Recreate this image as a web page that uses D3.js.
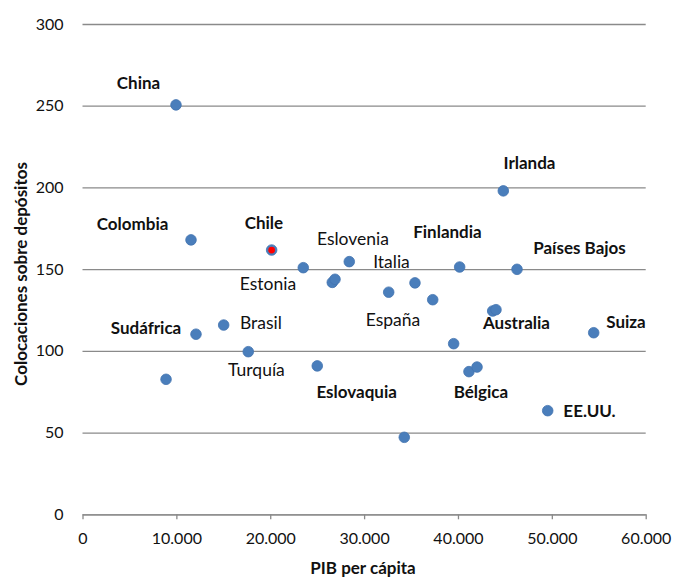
<!DOCTYPE html>
<html>
<head>
<meta charset="utf-8">
<script src="https://cdn.jsdelivr.net/npm/d3@7"></script>
<style>
  html, body { margin: 0; padding: 0; background: #fff; }
  svg { display: block; font-family: Lato, "Noto Sans", sans-serif; }
</style>
</head>
<body>
<svg id="chart" width="675" height="579"></svg>
<script>
// PIB per cápita vs. colocaciones sobre depósitos, por país
const countries = [
  "China", "Colombia", "Chile", "Estonia", "", "", "Eslovenia", "España", "Italia", "",
  "Finlandia", "Irlanda", "Países Bajos", "", "Australia", "Suiza", "", "Bélgica", "",
  "EE.UU.", "", "Eslovaquia", "Turquía", "Brasil", "Sudáfrica", ""
];
const gdpPerCapita = [
  9960, 11560, 20150, 23520, 26610, 26900, 28420, 32620, 35420, 37310,
  40180, 44830, 46290, 43700, 44050, 54460, 39540, 41170, 42030,
  49560, 34280, 25010, 17660, 15040, 12090, 8900
];
const loansToDeposits = [
  250.5, 167.9, 161.7, 150.9, 141.9, 143.8, 154.6, 135.9, 141.6, 131.3,
  151.3, 197.9, 149.9, 124.4, 125.2, 111.1, 104.4, 87.3, 90.1,
  63.4, 47.1, 90.8, 99.5, 115.8, 110.2, 82.6
];
const boldLabels = [
  "China", "Colombia", "Chile", "Finlandia", "Irlanda", "Países Bajos",
  "Australia", "Suiza", "Sudáfrica", "Eslovaquia", "Bélgica", "EE.UU."
];
const highlighted = "Chile";
const xTicks = [0, 10000, 20000, 30000, 40000, 50000, 60000];
const yTicks = [0, 50, 100, 150, 200, 250, 300];
const xTitle = "PIB per cápita";
const yTitle = "Colocaciones sobre depósitos";

// label placement: offset of the label centre from its marker, in px
const labelOffset = {
  "China": [-37.5, -22.3], "Colombia": [-58.5, -16], "Chile": [-7.7, -27],
  "Eslovenia": [3.7, -22.7], "Estonia": [-35.3, 16.3], "Italia": [-23.5, -21],
  "España": [4.3, 27.7], "Finlandia": [-12.2, -35], "Irlanda": [26.2, -28],
  "Países Bajos": [62.5, -21.3], "Australia": [20.5, 13.3], "Suiza": [32.3, -10.8],
  "Sudáfrica": [-50, -6.6], "Brasil": [37.3, -2.3], "Turquía": [8.2, 18.3],
  "Eslovaquia": [39.4, 26], "Bélgica": [12, 20], "EE.UU.": [41.8, 0.3]
};

const points = countries.map((name, i) => ({
  name, x: gdpPerCapita[i], y: loansToDeposits[i]
}));

const svg = d3.select("#chart");
const plot = { left: 82.5, right: 645.7, top: 24, bottom: 514.3 };

const x = d3.scaleLinear().domain([0, 60000]).range([plot.left, plot.right]);
const y = d3.scaleLinear().domain([0, 300]).range([plot.bottom, plot.top]);

const gridColor = "#8a8a8a";
const fmt = d3.formatLocale({ decimal: ",", thousands: ".", grouping: [3], currency: ["", ""] }).format(",d");

// horizontal gridlines + y tick labels
const yAxis = d3.axisLeft(y).tickValues(yTicks).tickSize(-(plot.right - plot.left)).tickPadding(19);
svg.append("g")
  .attr("transform", `translate(${plot.left},0)`)
  .call(yAxis)
  .call(g => g.select(".domain").remove())
  .call(g => g.selectAll(".tick line").attr("stroke", gridColor).attr("stroke-width", 1.3))
  .call(g => g.selectAll(".tick text")
    .attr("fill", "#111").style("font-size", "16px").style("font-family", "Lato, sans-serif"));

// bottom axis with downward ticks
const xAxis = d3.axisBottom(x).tickValues(xTicks).tickSize(5).tickSizeOuter(0).tickPadding(13).tickFormat(fmt);
svg.append("g")
  .attr("transform", `translate(0,${plot.bottom})`)
  .call(xAxis)
  .call(g => g.select(".domain").attr("stroke", gridColor).attr("stroke-width", 1.3))
  .call(g => g.selectAll(".tick line").attr("stroke", gridColor).attr("stroke-width", 1.3))
  .call(g => g.selectAll(".tick text")
    .attr("fill", "#111").style("font-size", "16px").style("font-family", "Lato, sans-serif"));

// axis titles
svg.append("text")
  .attr("x", 363)
  .attr("y", 568).attr("dy", "0.35em")
  .attr("text-anchor", "middle")
  .style("font-size", "17px").style("font-weight", "bold").attr("fill", "#111")
  .text(xTitle);

svg.append("text")
  .attr("transform", `translate(21,274) rotate(-90)`)
  .attr("dy", "0.35em")
  .attr("text-anchor", "middle")
  .style("font-size", "17px").style("font-weight", "bold").attr("fill", "#111")
  .text(yTitle);

// markers
const dots = svg.append("g");
dots.selectAll("circle.pt")
  .data(points)
  .join("circle")
  .attr("class", "pt")
  .attr("cx", d => x(d.x))
  .attr("cy", d => y(d.y))
  .attr("r", 5.3)
  .attr("fill", "#4a7ebb")
  .attr("stroke", "#4274b0")
  .attr("stroke-width", 0.8);

dots.selectAll("circle.hl")
  .data(points.filter(d => d.name === highlighted))
  .join("circle")
  .attr("class", "hl")
  .attr("cx", d => x(d.x))
  .attr("cy", d => y(d.y))
  .attr("r", 3.4)
  .attr("fill", "#ff0000");

// country labels
svg.append("g")
  .selectAll("text")
  .data(points.filter(d => d.name))
  .join("text")
  .attr("x", d => x(d.x) + labelOffset[d.name][0])
  .attr("y", d => y(d.y) + labelOffset[d.name][1])
  .attr("dy", "0.35em")
  .attr("text-anchor", "middle")
  .style("font-size", d => boldLabels.includes(d.name) ? "17px" : "17.5px")
  .style("font-weight", d => boldLabels.includes(d.name) ? "bold" : "normal")
  .attr("fill", "#111")
  .text(d => d.name);
</script>
</body>
</html>
